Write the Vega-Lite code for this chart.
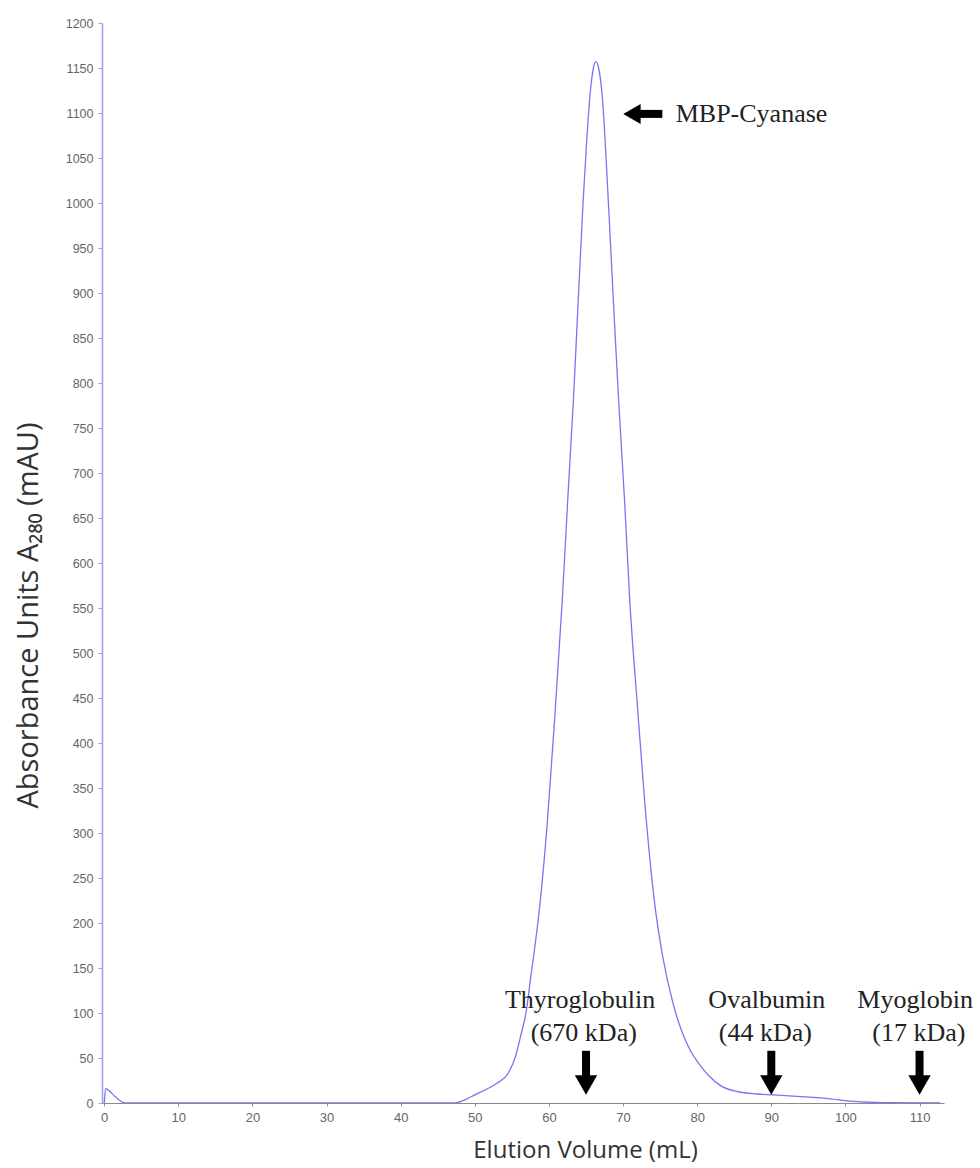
{
  "$schema": "https://vega.github.io/schema/vega-lite/v6.json",
  "autosize": "none",
  "width": 842,
  "height": 1080,
  "padding": {"left": 102, "top": 23, "right": 36, "bottom": 65},
  "background": "white",
  "config": {"view": {"stroke": null}},
  "datasets": {
    "trace": [
      {"v": 0.0, "a": 0}, {"v": 0.2, "a": 16}, {"v": 0.6, "a": 14}, {"v": 1.5, "a": 7}, {"v": 2.8, "a": 0},
      {"v": 47.4, "a": 0}, {"v": 48.5, "a": 3}, {"v": 50.0, "a": 9}, {"v": 51.5, "a": 15}, {"v": 53.0, "a": 22},
      {"v": 54.5, "a": 33}, {"v": 55.5, "a": 52}, {"v": 56.2, "a": 75}, {"v": 57.0, "a": 105}, {"v": 57.5, "a": 137},
      {"v": 58.2, "a": 180}, {"v": 58.8, "a": 222}, {"v": 59.8, "a": 314}, {"v": 60.8, "a": 430}, {"v": 61.8, "a": 559},
      {"v": 62.6, "a": 680}, {"v": 63.3, "a": 781}, {"v": 64.0, "a": 900}, {"v": 64.6, "a": 1000}, {"v": 65.1, "a": 1070},
      {"v": 65.6, "a": 1125}, {"v": 66.0, "a": 1150}, {"v": 66.3, "a": 1157}, {"v": 66.7, "a": 1150}, {"v": 67.2, "a": 1118},
      {"v": 67.9, "a": 1020}, {"v": 68.7, "a": 890}, {"v": 69.4, "a": 781}, {"v": 70.2, "a": 670}, {"v": 70.9, "a": 559},
      {"v": 71.9, "a": 445}, {"v": 72.9, "a": 337}, {"v": 74.2, "a": 226}, {"v": 75.3, "a": 165}, {"v": 76.7, "a": 112},
      {"v": 78.0, "a": 78}, {"v": 79.1, "a": 58}, {"v": 80.2, "a": 44}, {"v": 81.6, "a": 30}, {"v": 83.2, "a": 19},
      {"v": 85.5, "a": 12.5}, {"v": 88.0, "a": 10}, {"v": 90.3, "a": 9}, {"v": 94.0, "a": 7}, {"v": 97.0, "a": 5.5},
      {"v": 101.6, "a": 1.5}, {"v": 105.0, "a": 0.5}, {"v": 112.8, "a": 0}
    ],
    "markers": [
      {"name": "Thyroglobulin", "mass": "(670 kDa)", "v": 65, "nx": 64.2, "mx": 64.7},
      {"name": "Ovalbumin", "mass": "(44 kDa)", "v": 90, "nx": 89.4, "mx": 89.2},
      {"name": "Myoglobin", "mass": "(17 kDa)", "v": 110, "nx": 109.4, "mx": 109.9}
    ],
    "peak": [
      {"label": "MBP-Cyanase", "x1": 71.5, "x2": 75.3, "tip": 71.2, "tx": 77.1, "a": 1099}
    ]
  },
  "layer": [
    {
      "data": {"name": "trace"},
      "mark": {"type": "line", "color": "#7676ee", "strokeWidth": 1.3, "interpolate": "monotone", "clip": true},
      "encoding": {
        "x": {
          "field": "v", "type": "quantitative",
          "scale": {"domain": [-0.3, 113.3], "nice": false, "zero": false},
          "axis": {
            "values": [0, 10, 20, 30, 40, 50, 60, 70, 80, 90, 100, 110],
            "format": "d",
            "grid": false, "domainColor": "#8a8a8a", "domainWidth": 1.2,
            "tickColor": "#8a8a8a", "tickSize": 3,
            "labelFont": "Liberation Sans", "labelFontSize": 13, "labelColor": "#666666", "labelPadding": 5,
            "title": "Elution Volume (mL)", "titleFont": "Open Sans", "titleFontSize": 24, "titleFontWeight": "normal",
            "titleColor": "#333333", "titleX": 483, "titleY": 47, "titleBaseline": "middle"
          }
        },
        "y": {
          "field": "a", "type": "quantitative",
          "scale": {"domain": [0, 1200], "nice": false},
          "axis": {
            "values": [0, 50, 100, 150, 200, 250, 300, 350, 400, 450, 500, 550, 600, 650, 700, 750, 800, 850, 900, 950, 1000, 1050, 1100, 1150, 1200],
            "format": "d",
            "grid": false, "domainColor": "#9a9af0", "domainWidth": 1.5,
            "tickColor": "#aaaaaa", "tickSize": 4,
            "labelFont": "Liberation Sans", "labelFontSize": 12.5, "labelColor": "#666666", "labelPadding": 5,
            "title": "Absorbance Units A₂₈₀ (mAU)", "titleFont": "Open Sans", "titleFontSize": 29, "titleFontWeight": "normal",
            "titleColor": "#333333", "titleX": -74, "titleY": 592, "titleAngle": -90, "titleBaseline": "middle", "titleAlign": "center"
          }
        }
      }
    },
    {
      "data": {"name": "markers"},
      "mark": {"type": "rule", "color": "black", "strokeWidth": 8},
      "encoding": {
        "x": {"field": "v", "type": "quantitative"},
        "y": {"datum": 58},
        "y2": {"datum": 29}
      }
    },
    {
      "data": {"name": "markers"},
      "mark": {"type": "point", "shape": "triangle-down", "filled": true, "color": "black", "opacity": 1, "size": 500},
      "encoding": {
        "x": {"field": "v", "type": "quantitative"},
        "y": {"datum": 20}
      }
    },
    {
      "data": {"name": "markers"},
      "mark": {"type": "text", "font": "Liberation Serif", "fontSize": 26, "color": "#222222", "align": "center", "baseline": "middle"},
      "encoding": {
        "x": {"field": "nx", "type": "quantitative"},
        "y": {"datum": 114},
        "text": {"field": "name"}
      }
    },
    {
      "data": {"name": "markers"},
      "mark": {"type": "text", "font": "Liberation Serif", "fontSize": 26, "color": "#222222", "align": "center", "baseline": "middle"},
      "encoding": {
        "x": {"field": "mx", "type": "quantitative"},
        "y": {"datum": 78},
        "text": {"field": "mass"}
      }
    },
    {
      "data": {"name": "peak"},
      "mark": {"type": "rule", "color": "black", "strokeWidth": 8},
      "encoding": {
        "x": {"field": "x1", "type": "quantitative"},
        "x2": {"field": "x2"},
        "y": {"field": "a", "type": "quantitative"}
      }
    },
    {
      "data": {"name": "peak"},
      "mark": {"type": "point", "shape": "triangle-left", "filled": true, "color": "black", "opacity": 1, "size": 400},
      "encoding": {
        "x": {"field": "tip", "type": "quantitative"},
        "y": {"field": "a", "type": "quantitative"}
      }
    },
    {
      "data": {"name": "peak"},
      "mark": {"type": "text", "font": "Liberation Serif", "fontSize": 26, "color": "#222222", "align": "left", "baseline": "middle"},
      "encoding": {
        "x": {"field": "tx", "type": "quantitative"},
        "y": {"field": "a", "type": "quantitative"},
        "text": {"field": "label"}
      }
    }
  ]
}
